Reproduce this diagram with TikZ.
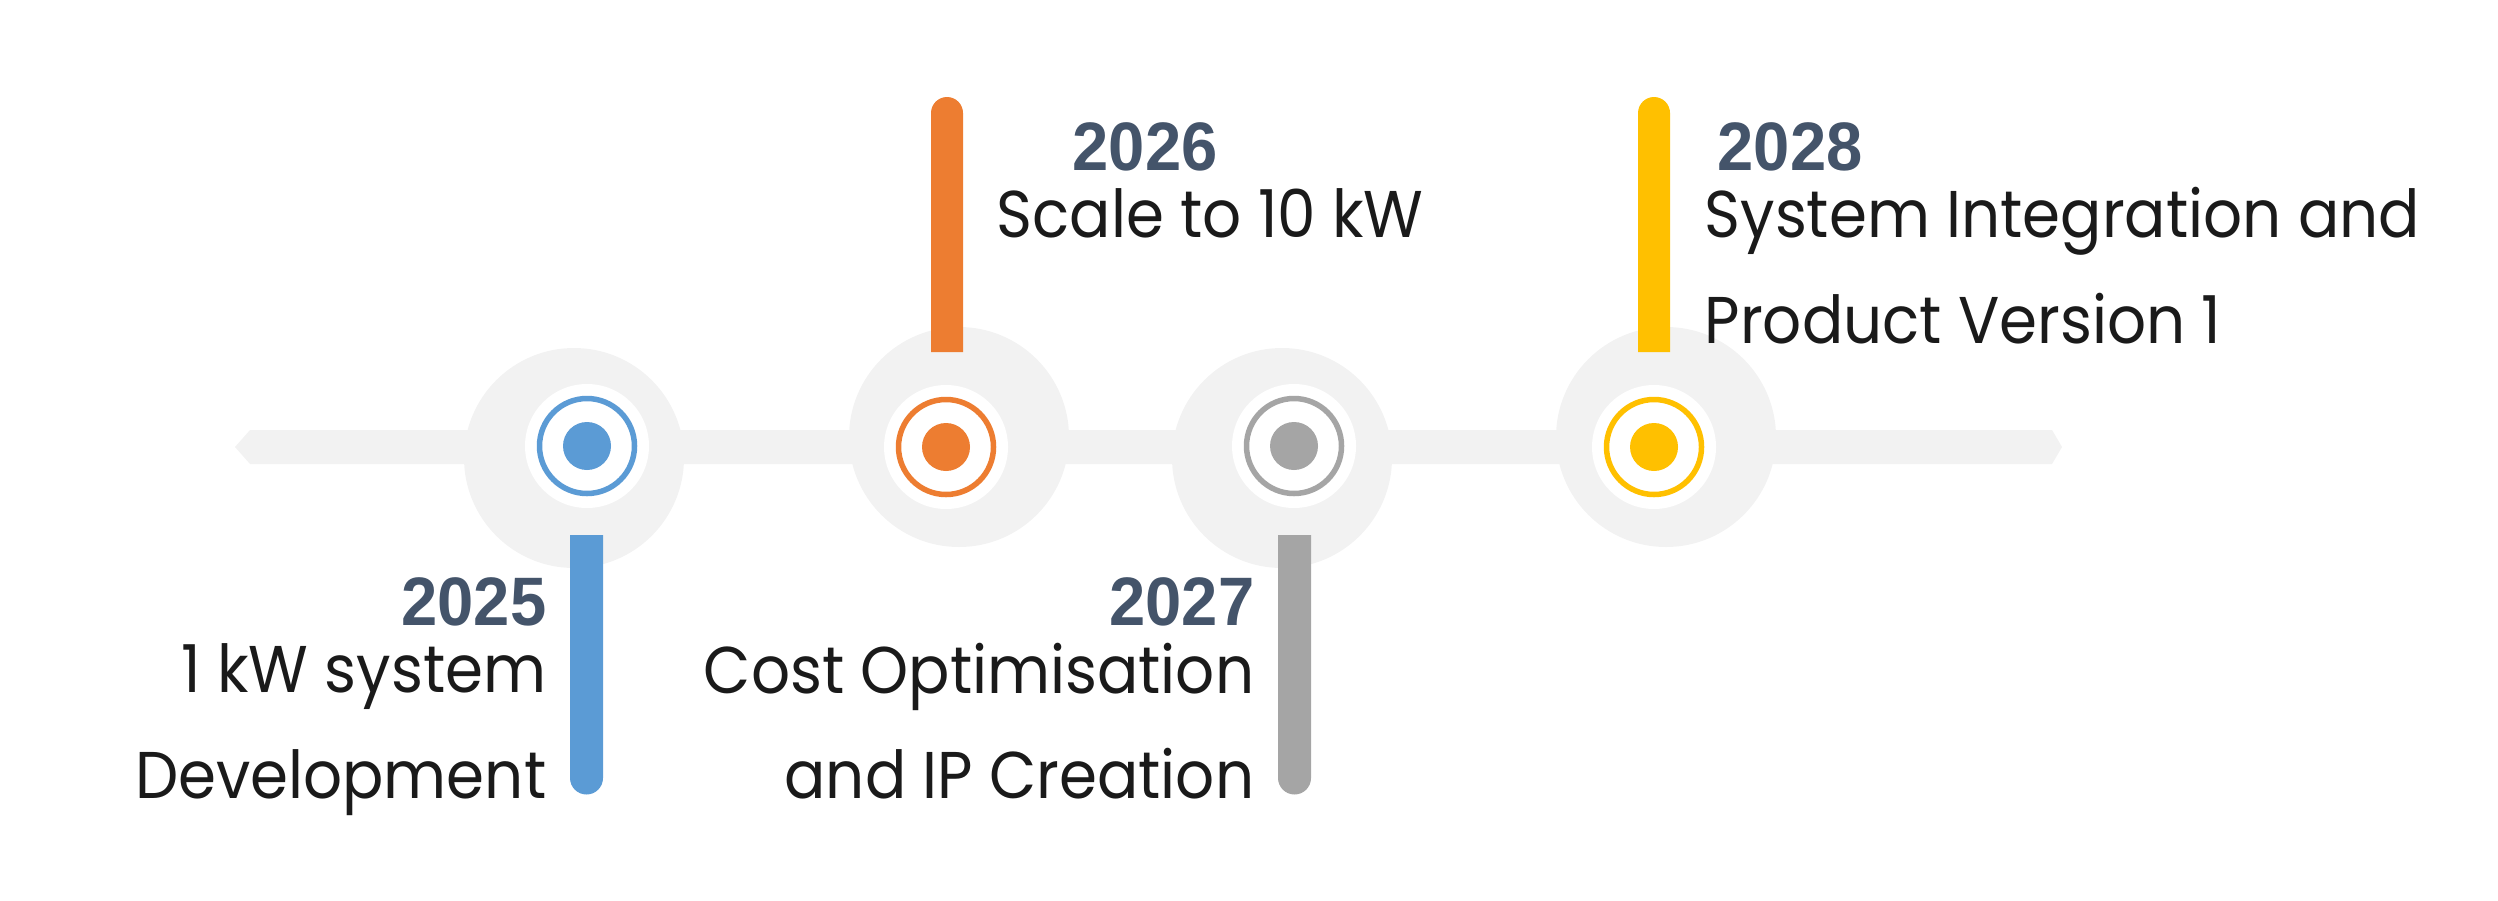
\documentclass[tikz,border=0pt]{standalone}
\usepackage{fontspec}
\setmainfont{Poppins}[FakeStretch=0.925]
\newfontfamily\yearfont{Liberation Sans}[FakeStretch=0.95]
\definecolor{cblue}{HTML}{5B9BD5}
\definecolor{corange}{HTML}{ED7D31}
\definecolor{cgray}{HTML}{A5A5A5}
\definecolor{cyellow}{HTML}{FFC000}
\definecolor{clight}{HTML}{F2F2F2}
\definecolor{cyear}{HTML}{44546A}
\definecolor{ctext}{HTML}{1A1A1A}
\tikzset{
  halo/.style={fill=clight},
  whitedisc/.style={fill=white},
  yearlbl/.style={inner sep=0pt, text=cyear, font=\yearfont\bfseries\fontsize{19.5pt}{22pt}\selectfont},
  desclbl/.style={inner sep=0pt, text=ctext, font=\fontsize{18.8pt}{22pt}\selectfont},
}
\begin{document}
\begin{tikzpicture}[x=0.01cm,y=-0.01cm]
\useasboundingbox (0,0) rectangle (2498,900);
% milestone centres
\coordinate (m1) at (587,446);
\coordinate (m2) at (946,447);
\coordinate (m3) at (1294,446);
\coordinate (m4) at (1654,447);
% bar
\fill[clight] (250,430) -- (2052,430) -- (2062,447) -- (2052,464) -- (250,464) -- (235,447) -- cycle;
% halos
\fill[halo] (574,458) circle (110);
\fill[halo] (959,437) circle (110);
\fill[halo] (1282,458) circle (110);
\fill[halo] (1666,437) circle (110);
% white discs
\foreach \m in {m1,m2,m3,m4} \fill[whitedisc] (\m) circle (62);
% stems
\fill[cblue] (570,535) -- (570,778) arc[start angle=180,end angle=0,radius=16.5] -- (603,535) -- cycle;
\fill[cgray] (1278,535) -- (1278,778) arc[start angle=180,end angle=0,radius=16.5] -- (1311,535) -- cycle;
\fill[corange] (931,352) -- (931,113) arc[start angle=180,end angle=360,radius=16] -- (963,352) -- cycle;
\fill[cyellow] (1638,352) -- (1638,113) arc[start angle=180,end angle=360,radius=16] -- (1670,352) -- cycle;
% rings and dots
\foreach \m/\c in {m1/cblue,m2/corange,m3/cgray,m4/cyellow}{
  \draw[\c, line width=0.055cm] (\m) circle (47.5);
  \fill[\c] (\m) circle (24);
}
% labels
\node[yearlbl, anchor=base east] (y1) at (547,625) {2025};
\node[desclbl, anchor=base east] (d1a) at (547,692) {1 kW system};
\node[desclbl, anchor=base east] (d1b) at (547,798) {Development};
\node[yearlbl, anchor=base west] (y2) at (1072,170) {2026};
\node[desclbl, anchor=base west] (d2a) at (996,237) {Scale to 10 kW};
\node[yearlbl, anchor=base east] (y3) at (1255,625) {2027};
\node[desclbl, anchor=base east] (d3a) at (1255,693) {Cost Optimisation};
\node[desclbl, anchor=base east] (d3b) at (1255,798) {and IP Creation};
\node[yearlbl, anchor=base west] (y4) at (1717,170) {2028};
\node[desclbl, anchor=base west] (d4a) at (1704,237) {System Integration and};
\node[desclbl, anchor=base west] (d4b) at (1704,343) {Product Version 1};
\end{tikzpicture}
\end{document}
